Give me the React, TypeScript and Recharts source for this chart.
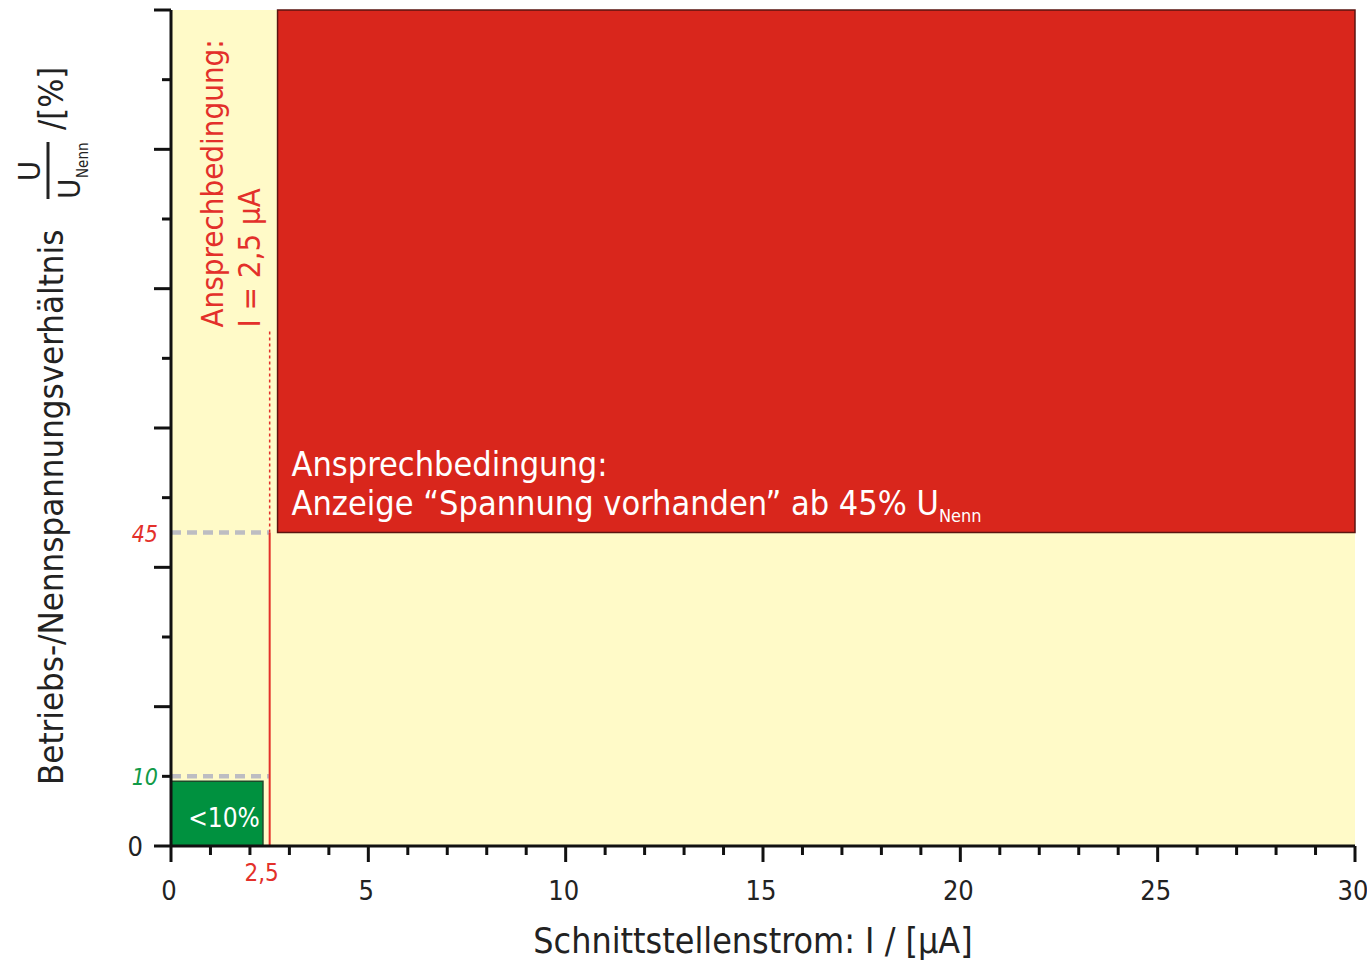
import React from 'react';
import { ComposedChart, XAxis, YAxis, ReferenceArea, ReferenceLine, Label } from 'recharts';

// Schnittstellenstrom I in µA
const xTicks = [0, 1, 2, 2.5, 3, 4, 5, 6, 7, 8, 9, 10, 11, 12, 13, 14, 15, 16, 17, 18, 19, 20, 21, 22, 23, 24, 25, 26, 27, 28, 29, 30];
const xLabelled = [0, 5, 10, 15, 20, 25, 30];
// U / U_Nenn in %
const yTicks = [0, 10, 20, 30, 40, 45, 50, 60, 70, 80, 90, 100, 110, 120];
const yMajor = [0, 20, 40, 60, 80, 100, 120];

const thresholdCurrent = 2.5;
const thresholdVoltage = 45;
const lowVoltage = 10;
const markerTop = 74;

const lowZone = { x1: 0, x2: 2.33, y1: 0, y2: 9.3 };
const responseZone = { x1: 2.7, x2: 30, y1: 45, y2: 120 };
const fullRange = { x1: 0, x2: 30, y1: 0, y2: 120 };

const FONT = "'Liberation Sans Narrow', 'DejaVu Sans Condensed', 'Noto Sans', sans-serif";
const RED = '#d9261c';
const RED_TEXT = '#e3302a';
const GREEN = '#00913f';
const GREEN_TEXT = '#119a48';
const YELLOW = '#fffac8';

const XTick = (props: any) => {
  const { x, y, payload } = props;
  const v = payload.value;
  if (v === thresholdCurrent) {
    return (
      <text x={x - 8} y={y + 35} textAnchor="middle" fontSize={24} fill={RED_TEXT} fontFamily={FONT}>
        2,5
      </text>
    );
  }
  const major = v % 5 === 0;
  return (
    <g>
      <line x1={x} x2={x} y1={y} y2={y + (major ? 16 : 9)} stroke="#111" strokeWidth={3} />
      {xLabelled.includes(v) && (
        <text x={x - 2} y={y + 54} textAnchor="middle" fontSize={27} fill="#222" fontFamily={FONT}>
          {v}
        </text>
      )}
    </g>
  );
};

const YTick = (props: any) => {
  const { x, y, payload } = props;
  const v = payload.value;
  if (v === thresholdVoltage) {
    return (
      <text x={x - 13} y={y + 9} textAnchor="end" fontSize={23} fontStyle="italic" fill={RED_TEXT} fontFamily={FONT}>
        45
      </text>
    );
  }
  const major = yMajor.includes(v);
  return (
    <g>
      <line x1={x - (major ? 17 : 9)} x2={x} y1={y} y2={y} stroke="#111" strokeWidth={3} />
      {v === 0 && (
        <text x={x - 28} y={y + 10} textAnchor="end" fontSize={27} fill="#222" fontFamily={FONT}>
          0
        </text>
      )}
      {v === lowVoltage && (
        <text x={x - 13} y={y + 9} textAnchor="end" fontSize={23} fontStyle="italic" fill={GREEN_TEXT} fontFamily={FONT}>
          10
        </text>
      )}
    </g>
  );
};

const YTitle = () => (
  <g transform="translate(63,785) rotate(-90)" fontFamily={FONT} fill="#222">
    <text x={0} y={0} fontSize={34.5}>Betriebs-/Nennspannungsverhältnis</text>
    <text x={614} y={-23} fontSize={31} textAnchor="middle">U</text>
    <line x1={586} x2={643} y1={-15} y2={-15} stroke="#222" strokeWidth={3} />
    <text x={586} y={17} fontSize={31}>U</text>
    <text x={607} y={25} fontSize={15}>Nenn</text>
    <text x={655} y={0} fontSize={34}>/[%]</text>
  </g>
);

const XTitle = () => (
  <text x={753} y={953} textAnchor="middle" fontSize={35.5} fill="#222" fontFamily={FONT}>
    Schnittstellenstrom: I / [µA]
  </text>
);

const ResponseText = (props: any) => {
  const { x, y, height } = props.viewBox;
  return (
    <text fill="#fff" fontSize={34} fontFamily={FONT}>
      <tspan x={x + 14} y={y + height - 57}>Ansprechbedingung:</tspan>
      <tspan x={x + 14} y={y + height - 18}>Anzeige “Spannung vorhanden” ab 45% U</tspan>
      <tspan fontSize={18} dy={7}>Nenn</tspan>
    </text>
  );
};

const LowText = (props: any) => {
  const { x, y, width, height } = props.viewBox;
  return (
    <text x={x + width / 2 + 7} y={y + height - 19} textAnchor="middle" fill="#fff" fontSize={26} fontFamily={FONT}>
      &lt;10%
    </text>
  );
};

const MarkerText = (props: any) => {
  const { x, y } = props.viewBox;
  return (
    <g transform={`translate(${x - 47},${y - 3}) rotate(-90)`} fill={RED_TEXT} fontSize={31} fontFamily={FONT}>
      <text x={0} y={0}>Ansprechbedingung:</text>
      <text x={0} y={37}>I = 2,5 µA</text>
    </g>
  );
};

export default function App() {
  return (
    <div style={{ position: 'absolute', left: 0, top: 0, background: '#fff' }}>
      <ComposedChart width={1367} height={962} data={[]} margin={{ top: 10, right: 12, left: 0, bottom: 0 }}>
        <ReferenceArea {...fullRange} fill={YELLOW} fillOpacity={1} stroke="none" />
        <ReferenceArea {...lowZone} fill={GREEN} fillOpacity={1} stroke="#1d4a2a" strokeWidth={1.5}>
          <Label content={LowText} />
        </ReferenceArea>
        <ReferenceArea {...responseZone} fill={RED} fillOpacity={1} stroke="#5a1510" strokeWidth={1.5}>
          <Label content={ResponseText} />
        </ReferenceArea>
        <ReferenceLine
          segment={[{ x: 0, y: lowVoltage }, { x: thresholdCurrent, y: lowVoltage }]}
          stroke="#bdbdc2"
          strokeWidth={4.5}
          strokeDasharray="10 6"
        />
        <ReferenceLine
          segment={[{ x: 0, y: thresholdVoltage }, { x: thresholdCurrent, y: thresholdVoltage }]}
          stroke="#bdbdc2"
          strokeWidth={4.5}
          strokeDasharray="10 6"
        />
        <ReferenceLine
          segment={[{ x: thresholdCurrent, y: 0 }, { x: thresholdCurrent, y: thresholdVoltage }]}
          stroke={RED_TEXT}
          strokeWidth={2}
        />
        <ReferenceLine
          segment={[{ x: thresholdCurrent, y: thresholdVoltage }, { x: thresholdCurrent, y: markerTop }]}
          stroke={RED_TEXT}
          strokeWidth={1.5}
          strokeDasharray="3 3"
        >
          <Label content={MarkerText} />
        </ReferenceLine>
        <XAxis
          type="number"
          dataKey="x"
          domain={[0, 30]}
          ticks={xTicks}
          interval={0}
          allowDataOverflow
          height={116}
          tickSize={0}
          tickMargin={0}
          tickLine={false}
          axisLine={{ stroke: '#111', strokeWidth: 3 }}
          tick={XTick}
          label={<Label content={XTitle} />}
        />
        <YAxis
          type="number"
          dataKey="y"
          domain={[0, 120]}
          ticks={yTicks}
          interval={0}
          allowDataOverflow
          width={171}
          tickSize={0}
          tickMargin={0}
          tickLine={false}
          axisLine={{ stroke: '#111', strokeWidth: 3 }}
          tick={YTick}
          label={<Label content={YTitle} />}
        />
      </ComposedChart>
    </div>
  );
}
